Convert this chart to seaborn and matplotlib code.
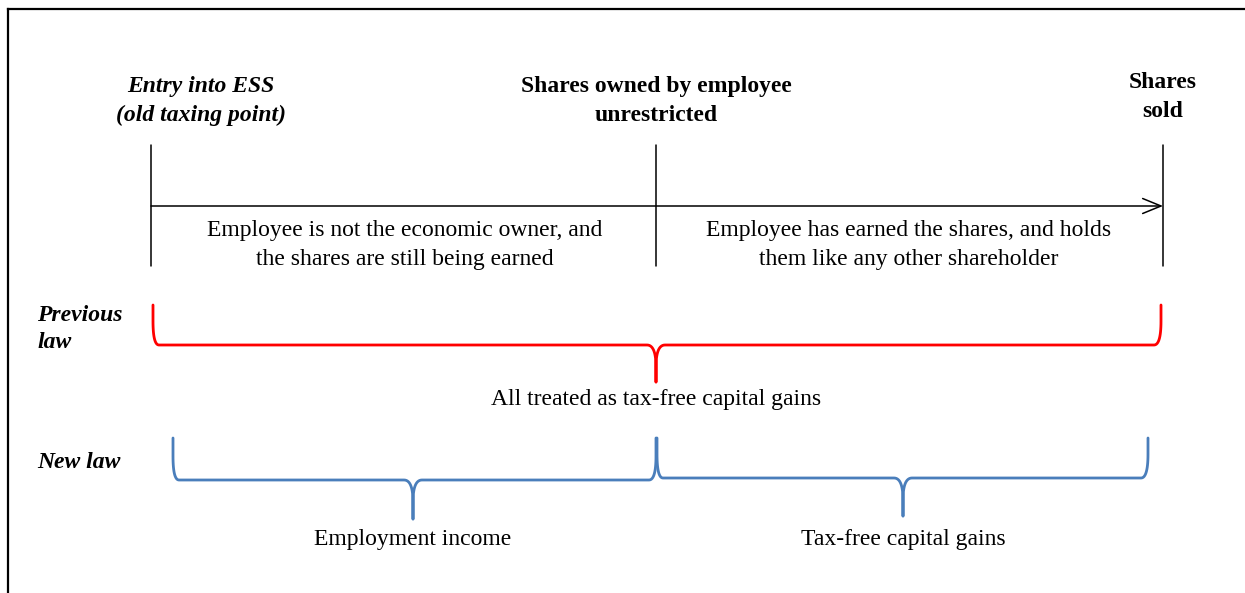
import numpy as np
import pandas as pd
import seaborn as sns
import matplotlib.pyplot as plt

# Timeline points (x in pixels of the 1245x593 canvas)
stage_x = [151, 656, 1163]
stage_titles = ["Entry into ESS\n(old taxing point)",
                "Shares owned by employee\nunrestricted",
                "Shares\nsold"]
stage_title_x = [201, 656, 1163]
stage_title_y = [101, 101, 97]
stage_title_style = ["italic", "normal", "normal"]

period_texts = ["Employee is not the economic owner, and\nthe shares are still being earned",
                "Employee has earned the shares, and holds\nthem like any other shareholder"]
period_x = [405, 909]

# Braces: left end, right end, tip x, top y, flat y, tip y, colour
brace_left = [152, 172, 656]
brace_right = [1161, 656, 1148]
brace_tip = [656, 413, 903]
brace_top = [305, 438, 438]
brace_flat = [345, 480, 478]
brace_end = [382, 519, 516]
brace_color = ["#FF0000", "#4A7EBB", "#4A7EBB"]

brace_labels = ["All treated as tax-free capital gains", "Employment income", "Tax-free capital gains"]
brace_label_y = [399, 540, 540]

row_labels = ["Previous\nlaw", "New law"]
row_label_y = [329, 462]


def quad(p0, p1, p2, n=16):
    t = np.linspace(0, 1, n)[:, None]
    return (1 - t) ** 2 * np.array(p0) + 2 * (1 - t) * t * np.array(p1) + t ** 2 * np.array(p2)


def brace(x0, x1, xm, ytop, yh, ytip, er=(7, 16), tr=(9, 22)):
    ex, ey = er
    tx, ty = tr
    return np.vstack([
        [[x0 + 1, ytop]],
        quad((x0 + 1, yh - ey - 8), (x0 + 1, yh), (x0 + ex, yh)),
        quad((xm - tx, yh), (xm, yh), (xm, yh + ty)),
        [[xm, ytip], [xm, yh + ty]],
        quad((xm, yh + ty), (xm, yh), (xm + tx, yh)),
        quad((x1 - ex, yh), (x1, yh), (x1, yh - ey - 8)),
        [[x1, ytop]],
    ])


sns.set_theme(style="white")
plt.rcParams['font.family'] = ['Liberation Serif', 'DejaVu Serif']
plt.rcParams['text.color'] = 'black'

fig = plt.figure(figsize=(12.45, 5.93), dpi=100)
ax = fig.add_axes([0, 0, 1, 1])

# frame
ax.plot([8, 8], [593, 9], color="black", lw=1.6, solid_capstyle="projecting")
ax.plot([8, 1245], [9, 9], color="black", lw=1.6, solid_capstyle="projecting")

# timeline
for x in stage_x:
    ax.plot([x, x], [145, 266], color="black", lw=1.1)
ax.annotate("", xy=(stage_x[-1], 206), xytext=(stage_x[0], 206),
            arrowprops=dict(arrowstyle="->,head_length=1.1,head_width=0.45", color="black", lw=1.1,
                            shrinkA=0, shrinkB=0))

for t, x, y, st in zip(stage_titles, stage_title_x, stage_title_y, stage_title_style):
    ax.text(x, y, t, ha="center", va="center", fontsize=17, fontweight="bold", style=st,
            linespacing=1.45)

for t, x in zip(period_texts, period_x):
    ax.text(x, 245, t, ha="center", va="center", fontsize=17, linespacing=1.45)

for i in range(3):
    p = brace(brace_left[i], brace_right[i], brace_tip[i], brace_top[i], brace_flat[i], brace_end[i])
    df = pd.DataFrame({"x": p[:, 0], "y": p[:, 1]})
    sns.lineplot(data=df, x="x", y="y", sort=False, estimator=None, color=brace_color[i], lw=2.0, ax=ax)
    ax.text(brace_tip[i], brace_label_y[i], brace_labels[i], ha="center", va="center", fontsize=17)

for t, y in zip(row_labels, row_label_y):
    ax.text(37, y, t, ha="left", va="center", fontsize=17, fontweight="bold", style="italic",
            linespacing=1.35)

ax.set_xlim(0, 1245)
ax.set_ylim(593, 0)
ax.axis("off")
fig.savefig("out.png", dpi=100)
